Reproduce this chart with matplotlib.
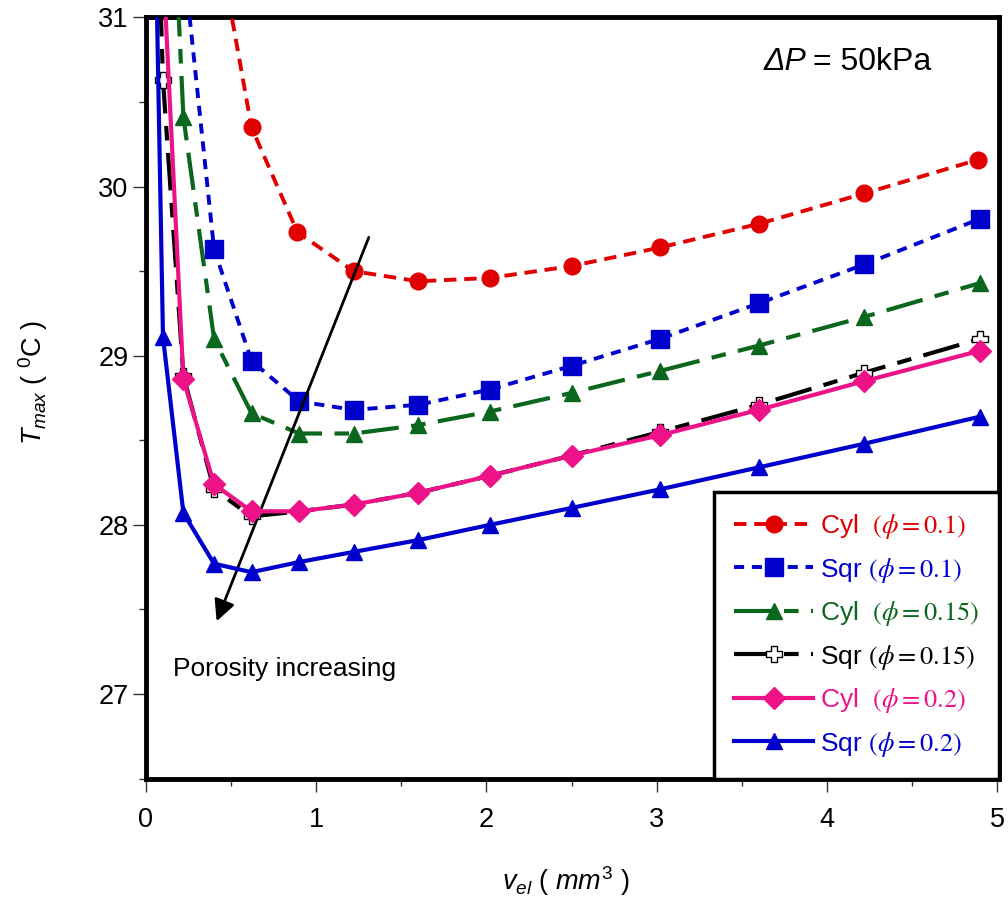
import matplotlib
matplotlib.use("Agg")
import matplotlib.pyplot as plt
from matplotlib.ticker import MultipleLocator

plt.rcParams["font.family"] = ["Liberation Sans", "DejaVu Sans"]
plt.rcParams["mathtext.fontset"] = "custom"
plt.rcParams["mathtext.rm"] = "Liberation Sans"
plt.rcParams["mathtext.it"] = "Liberation Sans:italic"
plt.rcParams["mathtext.bf"] = "Liberation Sans:bold"

# data (points above 31 lie outside the plotted range)
x_cyl_01 = [0.40, 0.62, 0.89, 1.22, 1.60, 2.02, 2.50, 3.02, 3.60, 4.22, 4.89]
t_cyl_01 = [31.59, 30.35, 29.73, 29.50, 29.44, 29.46, 29.53, 29.64, 29.78, 29.96, 30.16]

x_sqr_01 = [0.22, 0.40, 0.62, 0.90, 1.22, 1.60, 2.02, 2.50, 3.02, 3.60, 4.22, 4.90]
t_sqr_01 = [31.35, 29.63, 28.97, 28.73, 28.68, 28.71, 28.80, 28.94, 29.10, 29.31, 29.54, 29.81]

x_cyl_015 = [0.10, 0.22, 0.40, 0.62, 0.90, 1.22, 1.60, 2.02, 2.50, 3.02, 3.60, 4.22, 4.90]
t_cyl_015 = [33.0, 30.41, 29.10, 28.66, 28.54, 28.54, 28.59, 28.67, 28.78, 28.91, 29.06, 29.23, 29.43]

x_sqr_015 = [0.05, 0.10, 0.22, 0.40, 0.62, 0.90, 1.22, 1.60, 2.02, 2.50, 3.02, 3.60, 4.22, 4.90]
t_sqr_015 = [32.2, 30.63, 28.88, 28.21, 28.05, 28.08, 28.12, 28.19, 28.29, 28.41, 28.55, 28.71, 28.90, 29.10]

x_cyl_02 = [0.10, 0.22, 0.40, 0.62, 0.90, 1.22, 1.60, 2.02, 2.50, 3.02, 3.60, 4.22, 4.90]
t_cyl_02 = [31.33, 28.86, 28.24, 28.08, 28.08, 28.12, 28.19, 28.29, 28.41, 28.53, 28.68, 28.85, 29.03]

x_sqr_02 = [0.05, 0.10, 0.22, 0.40, 0.62, 0.90, 1.22, 1.60, 2.02, 2.50, 3.02, 3.60, 4.22, 4.90]
t_sqr_02 = [31.84, 29.11, 28.07, 27.77, 27.72, 27.78, 27.84, 27.91, 28.00, 28.10, 28.21, 28.34, 28.48, 28.64]

labels = [
    r"Cyl  $(\phi = 0.1)$",
    r"Sqr $(\phi = 0.1)$",
    r"Cyl  $(\phi = 0.15)$",
    r"Sqr $(\phi = 0.15)$",
    r"Cyl  $(\phi = 0.2)$",
    r"Sqr $(\phi = 0.2)$",
]

RED = "#E00000"
BLUE = "#0000CC"
GREEN = "#0B661E"
PINK = "#EE1289"

fig = plt.figure(figsize=(10.08, 9.02), dpi=100)
ax = fig.add_axes([0.1448, 0.1369, 0.8462, 0.8437])

ax.plot(x_cyl_01, t_cyl_01, color=RED, lw=2.8, dashes=(3.2, 2.0), marker="o", ms=12,
        label=labels[0], zorder=3)
ax.plot(x_sqr_01, t_sqr_01, color=BLUE, lw=2.8, dashes=(2.6, 2.0), marker="s", ms=13,
        label=labels[1], zorder=3)
ax.plot(x_cyl_015, t_cyl_015, color=GREEN, lw=3.0, dashes=(9.0, 3.0, 3.5, 3.0), marker="^", ms=12,
        label=labels[2], zorder=3)
ax.plot(x_sqr_015, t_sqr_015, color="black", lw=3.0, dashes=(9.0, 3.0, 3.5, 3.0), marker="P", ms=12,
        mfc="white", mec="black", mew=1.0, label=labels[3], zorder=3)
ax.plot(x_cyl_02, t_cyl_02, color=PINK, lw=3.0, marker="D", ms=11,
        label=labels[4], zorder=4)
ax.plot(x_sqr_02, t_sqr_02, color=BLUE, lw=3.0, marker="^", ms=11,
        label=labels[5], zorder=4)

ax.set_xlim(0, 5.01)
ax.set_ylim(26.5, 31)
ax.xaxis.set_major_locator(MultipleLocator(1))
ax.xaxis.set_minor_locator(MultipleLocator(0.5))
ax.yaxis.set_minor_locator(MultipleLocator(0.5))
ax.set_yticks([27, 28, 29, 30, 31])
ax.tick_params(which="major", direction="out", length=9.5, width=1.0, color="#333333",
               labelsize=19.5)
ax.tick_params(which="minor", direction="out", length=5, width=1.0, color="#333333")
ax.tick_params(axis="x", which="major", pad=11)
ax.tick_params(axis="y", which="major", pad=3)
for sp in ax.spines.values():
    sp.set_linewidth(3.5)

ax.set_xlabel(r"$v_{el}$ ( $mm^3$ )", fontsize=19.5)
ax.xaxis.set_label_coords(0.492, -0.112)
ax.set_ylabel(r"$T_{max}$ ( $^{0}$C )", fontsize=19.5)
ax.yaxis.set_label_coords(-0.112, 0.52)

# delta P note: italic symbol part, upright value part
ax.annotate("ΔP", xy=(0.774, 0.9415), xycoords="axes fraction", fontsize=23,
            style="italic", ha="right", va="center")
ax.annotate("= 50kPa", xy=(0.782, 0.9415), xycoords="axes fraction", fontsize=23,
            ha="left", va="center")
ax.text(0.157, 27.15, "Porosity increasing", fontsize=19, ha="left", va="center")
ax.annotate("", xy=(0.415, 27.43), xytext=(1.309, 29.70),
            arrowprops=dict(arrowstyle="-|>", mutation_scale=32, lw=2.0, color="black",
                            shrinkA=0, shrinkB=0))

leg = ax.legend(loc="lower right", bbox_to_anchor=(1.0, 0.0), borderaxespad=0.0,
                fontsize=19, handlelength=3.0, handletextpad=0.25, labelspacing=0.55,
                borderpad=0.75, fancybox=False, framealpha=1.0, edgecolor="black",
                numpoints=1)
leg.get_frame().set_linewidth(2.5)
text_colors = [RED, BLUE, GREEN, "black", PINK, BLUE]
for txt, col in zip(leg.get_texts(), text_colors):
    txt.set_color(col)
    txt.set_math_fontfamily("stix")

fig.savefig("out.png", dpi=100)
